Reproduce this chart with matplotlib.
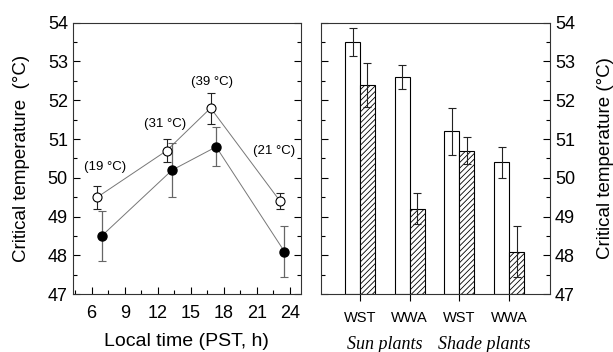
import numpy as np
import matplotlib
matplotlib.use("Agg")
import matplotlib.pyplot as plt
from matplotlib.ticker import MultipleLocator

plt.rcParams['font.family'] = ['Liberation Sans', 'DejaVu Sans']
plt.rcParams['hatch.linewidth'] = 0.6

# left panel: diurnal course
time_open = [6.5, 12.8, 16.8, 23.1]
tc_open = [49.5, 50.7, 51.8, 49.4]
err_open = [0.3, 0.3, 0.4, 0.2]
time_fill = [6.9, 13.3, 17.3, 23.5]
tc_fill = [48.5, 50.2, 50.8, 48.1]
err_fill = [0.65, 0.7, 0.5, 0.65]
air_temp_labels = ['(19 °C)', '(31 °C)', '(39 °C)', '(21 °C)']
air_temp_x = [7.2, 12.65, 16.9, 22.55]
air_temp_y = [50.28, 51.39, 52.48, 50.68]

# right panel: bars
groups = ['WST', 'WWA', 'WST', 'WWA']
plant_types = ['Sun plants', 'Shade plants']
bar_open = [53.5, 52.6, 51.2, 50.4]
bar_open_err = [0.35, 0.3, 0.6, 0.4]
bar_hatch = [52.4, 49.2, 50.7, 48.1]
bar_hatch_err = [0.57, 0.4, 0.35, 0.65]

fig = plt.figure(figsize=(6.13, 3.52), dpi=100)
ax1 = fig.add_axes([0.1186, 0.164, 0.3724, 0.7716])
ax2 = fig.add_axes([0.5237, 0.164, 0.3736, 0.7716])

# ---- left
ax1.plot(time_open, tc_open, color='#777777', lw=0.7, zorder=1)
ax1.plot(time_fill, tc_fill, color='#777777', lw=0.7, zorder=1)
ax1.errorbar(time_open, tc_open, yerr=err_open, fmt='none', ecolor='#222222',
             elinewidth=0.8, capsize=3, capthick=0.8, zorder=2)
ax1.errorbar(time_fill, tc_fill, yerr=err_fill, fmt='none', ecolor='#666666',
             elinewidth=0.9, capsize=3, capthick=0.8, zorder=2)
ax1.plot(time_open, tc_open, 'o', ms=6.5, mfc='white', mec='black', mew=0.8, ls='none', zorder=3)
ax1.plot(time_fill, tc_fill, 'o', ms=6.5, mfc='black', mec='black', ls='none', zorder=3)
for lab, x, y in zip(air_temp_labels, air_temp_x, air_temp_y):
    ax1.text(x, y, lab, ha='center', va='center', fontsize=9.5)

ax1.set_xlim(4.28, 25.0)
ax1.set_ylim(47, 54)
ax1.set_xticks([6, 9, 12, 15, 18, 21, 24])
ax1.xaxis.set_minor_locator(MultipleLocator(1.5))
ax1.yaxis.set_minor_locator(MultipleLocator(0.5))
ax1.tick_params(which='both', direction='in', left=True, right=True, top=False,
                labelsize=13)
ax1.tick_params(which='major', length=5, width=0.8)
ax1.tick_params(which='minor', length=3, width=0.8)
ax1.tick_params(axis='x', pad=8)
ax1.set_xlabel('Local time (PST, h)', fontsize=14, labelpad=8)
ax1.set_ylabel('Critical temperature  (°C)', fontsize=13.5, labelpad=13)

# ---- right
x = np.arange(len(groups))
w = 0.30
ax2.bar(x - w / 2, np.array(bar_open) - 47, w, bottom=47, color='white',
        edgecolor='black', lw=0.8, zorder=1)
ax2.bar(x + w / 2, np.array(bar_hatch) - 47, w, bottom=47, color='white',
        edgecolor='black', lw=0.8, hatch='//////', zorder=1)
ax2.errorbar(x - w / 2, bar_open, yerr=bar_open_err, fmt='none', ecolor='#222222',
             elinewidth=0.8, capsize=3, capthick=0.8, zorder=2)
ax2.errorbar(x + w / 2, bar_hatch, yerr=bar_hatch_err, fmt='none', ecolor='#222222',
             elinewidth=0.8, capsize=3, capthick=0.8, zorder=2)
ax2.set_xlim(-0.785, 3.825)
ax2.set_ylim(47, 54)
ax2.set_xticks(x)
ax2.set_xticklabels(groups, fontsize=10.5)
ax2.yaxis.set_minor_locator(MultipleLocator(0.5))
ax2.tick_params(axis='x', direction='out', length=5, width=0.8, pad=7)
ax2.tick_params(axis='y', which='both', direction='in', left=True, right=True,
                labelleft=False, labelright=True, labelsize=13, width=0.8)
ax2.tick_params(axis='y', which='major', length=5)
ax2.tick_params(axis='y', which='minor', length=3)
ax2.yaxis.set_label_position('right')
ax2.set_ylabel('Critical temperature (°C)', fontsize=13.5, labelpad=16)
for i, name in enumerate(plant_types):
    ax2.text(2 * i + 0.5, -0.185, name, transform=ax2.get_xaxis_transform(),
             ha='center', va='center', fontsize=13, style='italic',
             family='Liberation Serif')

for ax in (ax1, ax2):
    for s in ax.spines.values():
        s.set_linewidth(0.8)
        s.set_color('#333333')

fig.savefig('out.png', dpi=100)
